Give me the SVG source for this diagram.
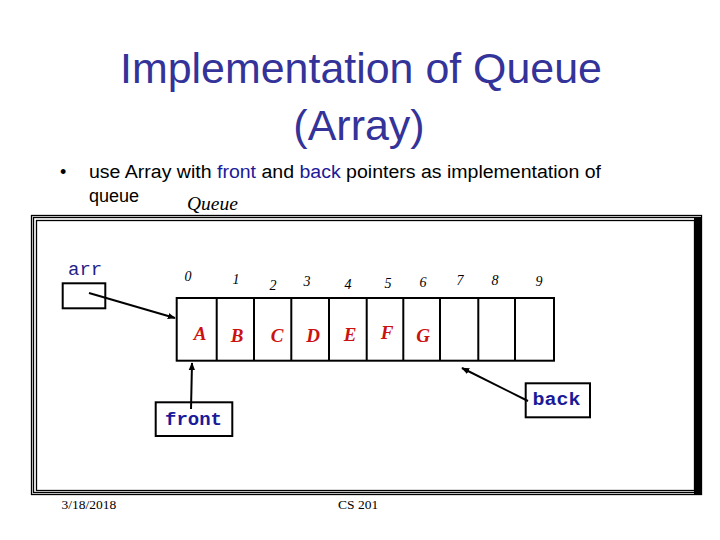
<svg xmlns="http://www.w3.org/2000/svg" width="720" height="540" viewBox="0 0 720 540">
<defs>
<marker id="ah" viewBox="0 0 10 10" refX="9" refY="5" markerWidth="4" markerHeight="4" orient="auto" markerUnits="strokeWidth">
<path d="M0,1 L10,5 L0,9 z" fill="#000"/>
</marker>
<style>
.title{font-family:"Liberation Sans",Arial,sans-serif;font-size:43px;fill:#333399;text-anchor:middle}
.body{font-family:"Liberation Sans",Arial,sans-serif;font-size:18px;fill:#000}
.blue{fill:#1a1a99}
.frame{fill:none;stroke:#000;stroke-width:1.3}
.box{fill:#fff;stroke:#000;stroke-width:2}
.cell{fill:none;stroke:#000;stroke-width:2}
.idx{font-family:"Liberation Serif","Times New Roman",serif;font-style:italic;font-size:14px;fill:#000;text-anchor:middle}
.val{font-family:"Liberation Serif","Times New Roman",serif;font-style:italic;font-weight:bold;font-size:19px;fill:#cc1111;text-anchor:middle}
.mono{font-family:"Liberation Mono","Courier New",monospace;font-size:19px;fill:#222288}
.monob{font-family:"Liberation Mono","Courier New",monospace;font-size:19px;font-weight:bold;fill:#1a1a99}
.foot{font-family:"Liberation Serif","Times New Roman",serif;font-size:13.5px;fill:#000}
.conn{stroke:#000;stroke-width:2;fill:none;marker-end:url(#ah)}
</style>
</defs>
<rect width="720" height="540" fill="#fff"/>
<g id="title">
<text class="title" x="361" y="83" textLength="482" lengthAdjust="spacingAndGlyphs">Implementation of Queue</text>
<text class="title" x="359" y="140">(Array)</text>
</g>
<g id="bullet">
<text class="body" x="60" y="178">•</text>
<text class="body" x="89" y="178" textLength="512" lengthAdjust="spacingAndGlyphs">use Array with <tspan class="blue">front</tspan> and <tspan class="blue">back</tspan> pointers as implementation of</text>
<text class="body" x="89" y="202">queue</text>
<text x="187" y="210" font-family="Liberation Serif, Times New Roman, serif" font-style="italic" font-size="19.5">Queue</text>
</g>
<g id="frame">
<rect class="frame" x="31.5" y="215.5" width="670" height="279"/>
<rect class="frame" x="33.5" y="217.5" width="666" height="275"/>
<rect class="frame" x="36.5" y="220.5" width="658" height="270"/>
<rect x="694" y="217" width="8" height="278" fill="#000"/>
</g>
<g id="arr">
<text class="mono" x="68" y="275">arr</text>
<rect class="box" x="62.7" y="283.3" width="42.6" height="25"/>
</g>
<g id="array">
<rect class="cell" x="176.7" y="298" width="377.3" height="62.7"/>
<path class="cell" d="M216.7,298V360.7M254,298V360.7M291.3,298V360.7M329,298V360.7M366.7,298V360.7M403.3,298V360.7M440,298V360.7M478.3,298V360.7M515,298V360.7"/>
<text class="idx" x="188" y="281">0</text>
<text class="idx" x="236" y="284">1</text>
<text class="idx" x="273" y="290">2</text>
<text class="idx" x="307" y="286">3</text>
<text class="idx" x="348" y="289">4</text>
<text class="idx" x="388" y="288">5</text>
<text class="idx" x="423" y="287">6</text>
<text class="idx" x="460" y="285">7</text>
<text class="idx" x="495" y="285">8</text>
<text class="idx" x="539" y="286">9</text>
<text class="val" x="200" y="340">A</text>
<text class="val" x="237" y="341.5">B</text>
<text class="val" x="277" y="341.5">C</text>
<text class="val" x="313" y="341.5">D</text>
<text class="val" x="350" y="340.5">E</text>
<text class="val" x="387" y="339">F</text>
<text class="val" x="423" y="341.5">G</text>
</g>
<g id="front">
<rect class="box" x="155.7" y="402.3" width="76.6" height="33.7"/>
<text class="monob" x="193.5" y="425" text-anchor="middle">front</text>
</g>
<g id="back">
<rect class="box" x="525.7" y="383.3" width="64.3" height="34"/>
<text class="monob" x="532.5" y="405" textLength="48" lengthAdjust="spacingAndGlyphs">back</text>
</g>
<g id="connectors">
<line class="conn" x1="89" y1="293" x2="175" y2="318"/>
<line class="conn" x1="191" y1="409" x2="192" y2="363"/>
<line class="conn" x1="528" y1="401" x2="462" y2="368"/>
</g>
<g id="footer">
<text class="foot" x="61.5" y="509">3/18/2018</text>
<text class="foot" x="338" y="509">CS 201</text>
</g>
</svg>
